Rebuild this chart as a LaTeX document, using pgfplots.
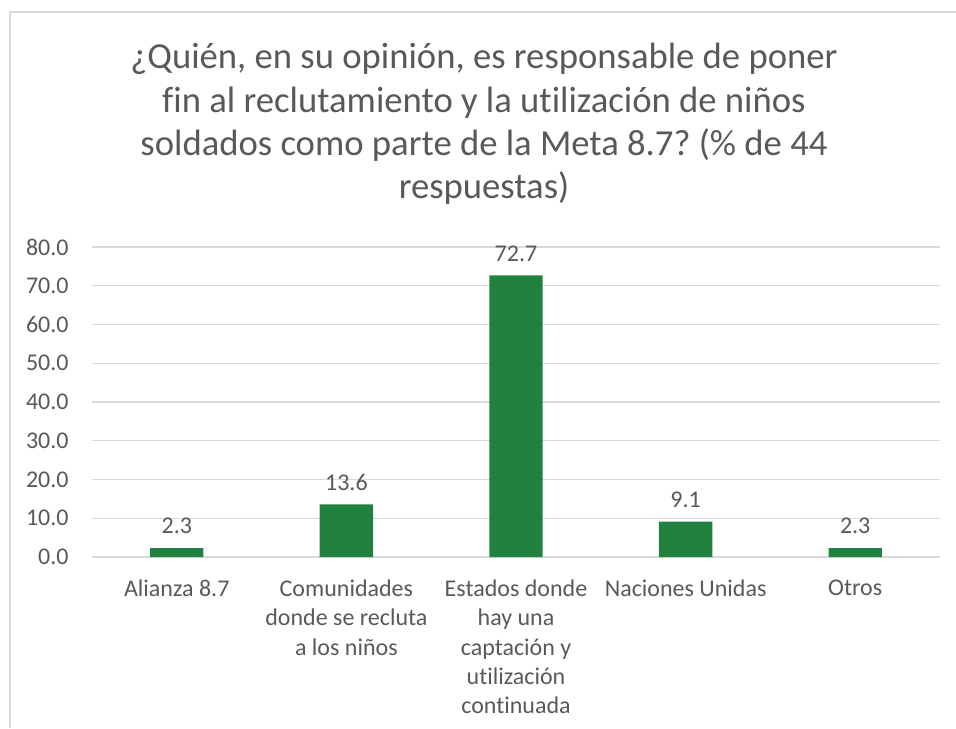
\documentclass[border=0pt]{standalone}
\usepackage{fontspec}
\setmainfont{Carlito}[Ligatures=NoCommon]
\usepackage{pgfplots}
\pgfplotsset{compat=1.18}
\definecolor{bargreen}{HTML}{218240}
\definecolor{txtgray}{HTML}{595959}
\definecolor{gridgray}{HTML}{D9D9D9}
\newcommand{\lbl}{\fontsize{18}{22}\selectfont}
\frenchspacing
\begin{document}
\begin{tikzpicture}
\begin{axis}[
  anchor=south west,at={(0,0)},
  scale only axis,width=636pt,height=232.5pt,
  ybar,bar width=40pt,
  xmin=-0.5,xmax=4.5,ymin=0,ymax=80,
  xtick=data,
  xticklabels={Alianza 8.7,
    {Comunidades\\donde se recluta\\a los niños},
    {Estados donde\\hay una\\captación y\\utilización\\continuada},
    Naciones Unidas,Otros},
  ytick={0,10,...,80},
  ymajorgrids,
  grid style={gridgray,line width=0.9pt},
  axis line style={draw=none},
  axis x line*=bottom,
  x axis line style={gridgray,line width=0.9pt},
  major tick length=0pt,
  /pgf/number format/assume math mode=true,
  yticklabel={\pgfmathprintnumber[fixed,fixed zerofill,precision=1]{\tick}},
  yticklabel style={font=\lbl,text=txtgray,xshift=-14pt},
  xticklabel style={font=\lbl,text=txtgray,align=center,yshift=-13.5pt},
  nodes near coords={\pgfmathprintnumber[fixed,fixed zerofill,precision=1]{\pgfplotspointmeta}},
  nodes near coords style={font=\lbl,text=txtgray,yshift=7pt},
]
\addplot[fill=bargreen,draw=none] coordinates {(0,2.3) (1,13.6) (2,72.7) (3,9.1) (4,2.3)};
\end{axis}
% reference pixels, (0,0) bottom left of the 956x728 picture
\begin{scope}[x=0.75pt,y=0.75pt,shift={(-69pt,-128.25pt)}]
\draw[gridgray,line width=1.2pt] (10,0) -- (10,716) -- (956,716);
\node[txtgray,font=\fontsize{27.5}{32.5}\selectfont,align=center] at (484,604)
  {¿Quién, en su opinión, es responsable de poner\\
   fin al reclutamiento y la utilización de niños\\
   soldados como parte de la Meta 8.7? (\% de 44\\
   respuestas)};
\pgfresetboundingbox
\useasboundingbox (0,0) rectangle (956,728);
\end{scope}
\end{tikzpicture}
\end{document}
